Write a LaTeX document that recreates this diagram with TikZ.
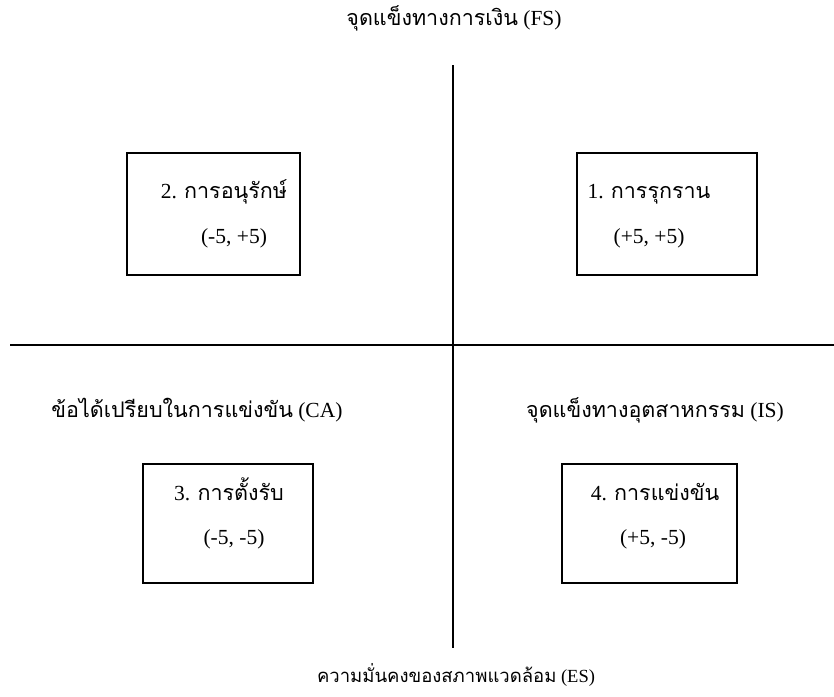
\documentclass[tikz,border=0pt]{standalone}
\usepackage{fontspec}
\setmainfont{Liberation Serif}
\newfontfamily\thaifont[Script=Thai]{Loma}
\newcommand{\thx}[1]{{\thaifont #1}}
\begin{document}
\begin{tikzpicture}[x=1pt,y=-1pt,
  axis/.style={line width=1.2pt},
  quadbox/.style={draw, line width=1.5pt, inner sep=0pt},
  lbl/.style={font=\fontsize{21.5}{25}\selectfont, inner sep=0pt},
  boxtxt/.style={font=\fontsize{21.5}{25}\selectfont, inner sep=0pt, anchor=base}]
\useasboundingbox (0,0) rectangle (834,696);
% axes
\coordinate (vt) at (453,65);
\coordinate (vb) at (453,648);
\coordinate (hl) at (10,345);
\coordinate (hr) at (834,345);
\draw[axis] (vt) -- (vb);
\draw[axis] (hl) -- (hr);
% axis labels
\node[lbl] (fs) at (454,18) {\thx{จุดแข็งทางการเงิน} (FS)};
\node[lbl] (ca) at (197,410) {\thx{ข้อได้เปรียบในการแข่งขัน} (CA)};
\node[lbl] (is) at (655,410) {\thx{จุดแข็งทางอุตสาหกรรม} (IS)};
\node[lbl, font=\fontsize{18.5}{22}\selectfont] (es) at (456,675) {\thx{ความมั่นคงของสภาพแวดล้อม} (ES)};
% quadrant boxes
\node[quadbox, minimum width=173, minimum height=122] (b2) at (213.5,214) {};
\node[quadbox, minimum width=180, minimum height=122] (b1) at (667,214) {};
\node[quadbox, minimum width=170, minimum height=119] (b3) at (228,523.5) {};
\node[quadbox, minimum width=175, minimum height=119] (b4) at (649.5,523.5) {};
% box texts
\node[boxtxt] (b2n) at (224,198) {2. \thx{การอนุรักษ์}};
\node[boxtxt] (b2v) at (234,243) {(-5, +5)};
\node[boxtxt] (b1n) at (649,198) {1. \thx{การรุกราน}};
\node[boxtxt] (b1v) at (649,243) {(+5, +5)};
\node[boxtxt] (b3n) at (229,500) {3. \thx{การตั้งรับ}};
\node[boxtxt] (b3v) at (234,544) {(-5, -5)};
\node[boxtxt] (b4n) at (655,500) {4. \thx{การแข่งขัน}};
\node[boxtxt] (b4v) at (653,544) {(+5, -5)};
\end{tikzpicture}
\end{document}
